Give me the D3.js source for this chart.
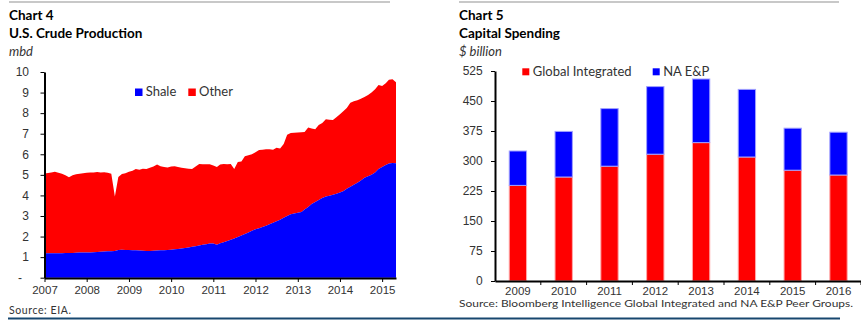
<!DOCTYPE html>
<html>
<head>
<meta charset="utf-8">
<script src="https://cdn.jsdelivr.net/npm/d3@7"></script>
<style>
  body { margin: 0; background: #fff; }
  svg { display: block; font-family: Lato, "Open Sans", sans-serif; }
  .axis text { fill: #333; }
  .axis path, .axis line { stroke: #000; }
</style>
</head>
<body>
<div id="vis"></div>
<script>
// chart 4 - monthly, Jan 2007 .. May 2015 (mbd)
var shale = [1.19,1.19,1.19,1.19,1.19,1.19,1.20,1.20,1.20,1.21,1.22,1.22,
             1.23,1.23,1.24,1.25,1.26,1.27,1.28,1.29,1.30,1.35,1.36,1.35,
             1.35,1.34,1.33,1.32,1.31,1.30,1.30,1.31,1.32,1.33,1.34,1.35,
             1.36,1.38,1.40,1.42,1.44,1.47,1.50,1.53,1.56,1.60,1.63,1.66,
             1.66,1.60,1.68,1.72,1.78,1.84,1.90,1.98,2.05,2.12,2.20,2.28,
             2.35,2.40,2.46,2.53,2.60,2.67,2.74,2.82,2.92,3.00,3.08,3.12,
             3.16,3.20,3.32,3.44,3.58,3.68,3.78,3.88,3.95,3.98,4.03,4.08,
             4.14,4.22,4.32,4.42,4.52,4.62,4.72,4.86,4.93,5.00,5.12,5.28,
             5.38,5.48,5.55,5.58,5.57];
// shale + other
var total = [5.07,5.09,5.12,5.15,5.10,5.05,4.98,4.88,4.98,5.03,5.05,5.08,
             5.10,5.12,5.12,5.14,5.12,5.13,5.10,5.05,3.95,4.90,5.04,5.08,
             5.15,5.20,5.28,5.25,5.30,5.28,5.35,5.40,5.50,5.42,5.38,5.36,
             5.40,5.42,5.38,5.34,5.32,5.30,5.28,5.40,5.53,5.52,5.52,5.51,
             5.45,5.38,5.50,5.53,5.52,5.53,5.28,5.62,5.65,5.90,5.95,6.00,
             6.10,6.21,6.22,6.25,6.25,6.22,6.32,6.28,6.50,6.95,7.03,7.05,
             7.06,7.07,7.08,7.30,7.25,7.22,7.42,7.52,7.70,7.68,7.67,7.80,
             7.95,8.10,8.25,8.50,8.58,8.63,8.70,8.78,8.88,9.00,9.16,9.37,
             9.32,9.45,9.62,9.65,9.50];
var prodTicks = [0,1,2,3,4,5,6,7,8,9,10];

// chart 5 - $ billion
var years = ["2009","2010","2011","2012","2013","2014","2015","2016"];
var globalInt = [239,260,287,317,346,310,277,265];
var naEP      = [86,114,144,169,159,169,105,107];
var capexTicks = [0,75,150,225,300,375,450,525];

var W = 861, H = 321;
var red = "#ff0000", blue = "#0000ff";

var svg = d3.select("div#vis").append("svg")
  .attr("width", W)
  .attr("height", H);

// frame lines
svg.append("line").attr("x1",9).attr("x2",390).attr("y1",2).attr("y2",2)
  .attr("stroke","#c8c8c8").attr("stroke-width",2);
svg.append("line").attr("x1",459).attr("x2",839).attr("y1",2).attr("y2",2)
  .attr("stroke","#c8c8c8").attr("stroke-width",2);
svg.append("line").attr("x1",8).attr("x2",840).attr("y1",318.5).attr("y2",318.5)
  .attr("stroke","#17476f").attr("stroke-width",2.2);

function titles(x, a, b, unit) {
  svg.append("text").attr("x",x).attr("y",20).attr("font-weight","bold")
    .attr("font-size",13.5).attr("fill","#000").text(a);
  svg.append("text").attr("x",x).attr("y",37.7).attr("font-weight","bold")
    .attr("font-size",13.5).attr("fill","#000").text(b);
  svg.append("text").attr("x",x).attr("y",55.5).attr("font-style","italic")
    .attr("font-size",13).attr("fill","#333").text(unit);
}
titles(9, "Chart 4", "U.S. Crude Production", "mbd");
titles(459, "Chart 5", "Capital Spending", "$ billion");

// ---------- chart 4 ----------
var months = d3.timeMonth.range(new Date(2007,0,1), new Date(2015,5,1));
var prod = months.map(function(m,i){ return {date:m, shale:shale[i], total:total[i]}; });

var x4 = d3.scaleTime().domain([new Date(2007,0,1), new Date(2015,4,1)]).range([44.5, 396]);
var y4 = d3.scaleLinear().domain([0,10]).range([277.7, 72]);

svg.append("path").datum(prod)
  .attr("fill", red)
  .attr("d", d3.area()
    .x(function(d){return x4(d.date);})
    .y0(function(d){return y4(d.shale);})
    .y1(function(d){return y4(d.total);}));

svg.append("path").datum(prod)
  .attr("fill", blue)
  .attr("d", d3.area()
    .x(function(d){return x4(d.date);})
    .y0(y4(0))
    .y1(function(d){return y4(d.shale);}));

var ax4 = svg.append("g").attr("class","axis")
  .attr("transform","translate(44.5,0)")
  .call(d3.axisLeft(y4).tickValues(prodTicks).tickSize(4).tickSizeOuter(0).tickPadding(11.5)
    .tickFormat(function(d){ return d === 0 ? "-" : d; }));
ax4.selectAll("text").attr("font-size",12).attr("font-family",null)
  .attr("dx", function(d){ return d === 0 ? -7 : 0; });

var bx4 = svg.append("g").attr("class","axis")
  .attr("transform","translate(0,278)")
  .call(d3.axisBottom(x4).ticks(d3.timeYear.every(1)).tickSize(4).tickSizeOuter(0)
    .tickFormat(d3.timeFormat("%Y")));
bx4.selectAll("text").attr("font-size",11.5).attr("font-family",null).attr("y",16).attr("dy",0);

[ax4, bx4].forEach(function(g){ g.select(".domain").attr("stroke-width",2); });

// legend 4
var leg4 = [{n:"Shale", c:blue, x:135}, {n:"Other", c:red, x:188.3}];
leg4.forEach(function(l){
  svg.append("rect").attr("x",l.x).attr("y",88.5).attr("width",7.5).attr("height",7.5).attr("fill",l.c);
  svg.append("text").attr("x",l.x+10.7).attr("y",96.3).attr("font-size",13).attr("fill","#333").text(l.n);
});

svg.append("text").attr("x",9).attr("y",314).attr("font-size",10.5).attr("fill","#333")
  .attr("textLength",62).text("Source: EIA.");

// ---------- chart 5 ----------
var x5 = d3.scaleBand().domain(years).range([495, 861.4]).paddingInner(0.6).paddingOuter(0.3);
var y5 = d3.scaleLinear().domain([0,525]).range([281, 71]);

var capex = years.map(function(y,i){ return {year:y, "Global Integrated":globalInt[i], "NA E&P":naEP[i]}; });
var stack = d3.stack().keys(["Global Integrated","NA E&P"])(capex);
var fills = {"Global Integrated":red, "NA E&P":blue};
var edges = {"Global Integrated":"#ffa8a8", "NA E&P":"#a0a0ff"};

svg.selectAll("g.layer").data(stack).enter().append("g")
  .attr("class","layer")
  .attr("fill", function(d){ return fills[d.key]; })
  .attr("stroke", function(d){ return edges[d.key]; })
  .selectAll("rect").data(function(d){ return d; }).enter().append("rect")
    .attr("x", function(d){ return x5(d.data.year) + 0.5; })
    .attr("width", x5.bandwidth() - 1)
    .attr("y", function(d){ return y5(d[1]); })
    .attr("height", function(d){ return y5(d[0]) - y5(d[1]); });

var ax5 = svg.append("g").attr("class","axis")
  .attr("transform","translate(495,0)")
  .call(d3.axisLeft(y5).tickValues(capexTicks).tickSize(4).tickSizeOuter(0).tickPadding(8.3));
ax5.selectAll("text").attr("font-size",12).attr("font-family",null);

var bx5 = svg.append("g").attr("class","axis")
  .attr("transform","translate(0,281)")
  .call(d3.axisBottom(x5).tickSize(0).tickSizeOuter(0));
bx5.selectAll("text").attr("font-size",11.5).attr("font-family",null).attr("y",13.8).attr("dy",0);
// category boundary ticks
bx5.selectAll("line.bound").data(years.slice(1).concat(["end"])).enter().append("line")
  .attr("class","bound")
  .attr("x1", function(d,i){ return i < years.length-1 ? x5(d) - x5.step()*0.3 : 861; })
  .attr("x2", function(d,i){ return i < years.length-1 ? x5(d) - x5.step()*0.3 : 861; })
  .attr("y1",0).attr("y2",4);

[ax5, bx5].forEach(function(g){ g.select(".domain").attr("stroke-width",2); });

// legend 5
var leg5 = [{n:"Global Integrated", c:red, x:522.3}, {n:"NA E&P", c:blue, x:652.7}];
leg5.forEach(function(l){
  svg.append("rect").attr("x",l.x).attr("y",68.3).attr("width",7).attr("height",7).attr("fill",l.c);
  svg.append("text").attr("x",l.x+10.5).attr("y",75.8).attr("font-size",13).attr("fill","#333").text(l.n);
});

svg.append("text").attr("x",459).attr("y",307).attr("font-size",10).attr("fill","#333")
  .attr("textLength",394).attr("lengthAdjust","spacingAndGlyphs")
  .text("Source: Bloomberg Intelligence Global Integrated and NA E&P Peer Groups.");
</script>
</body>
</html>
